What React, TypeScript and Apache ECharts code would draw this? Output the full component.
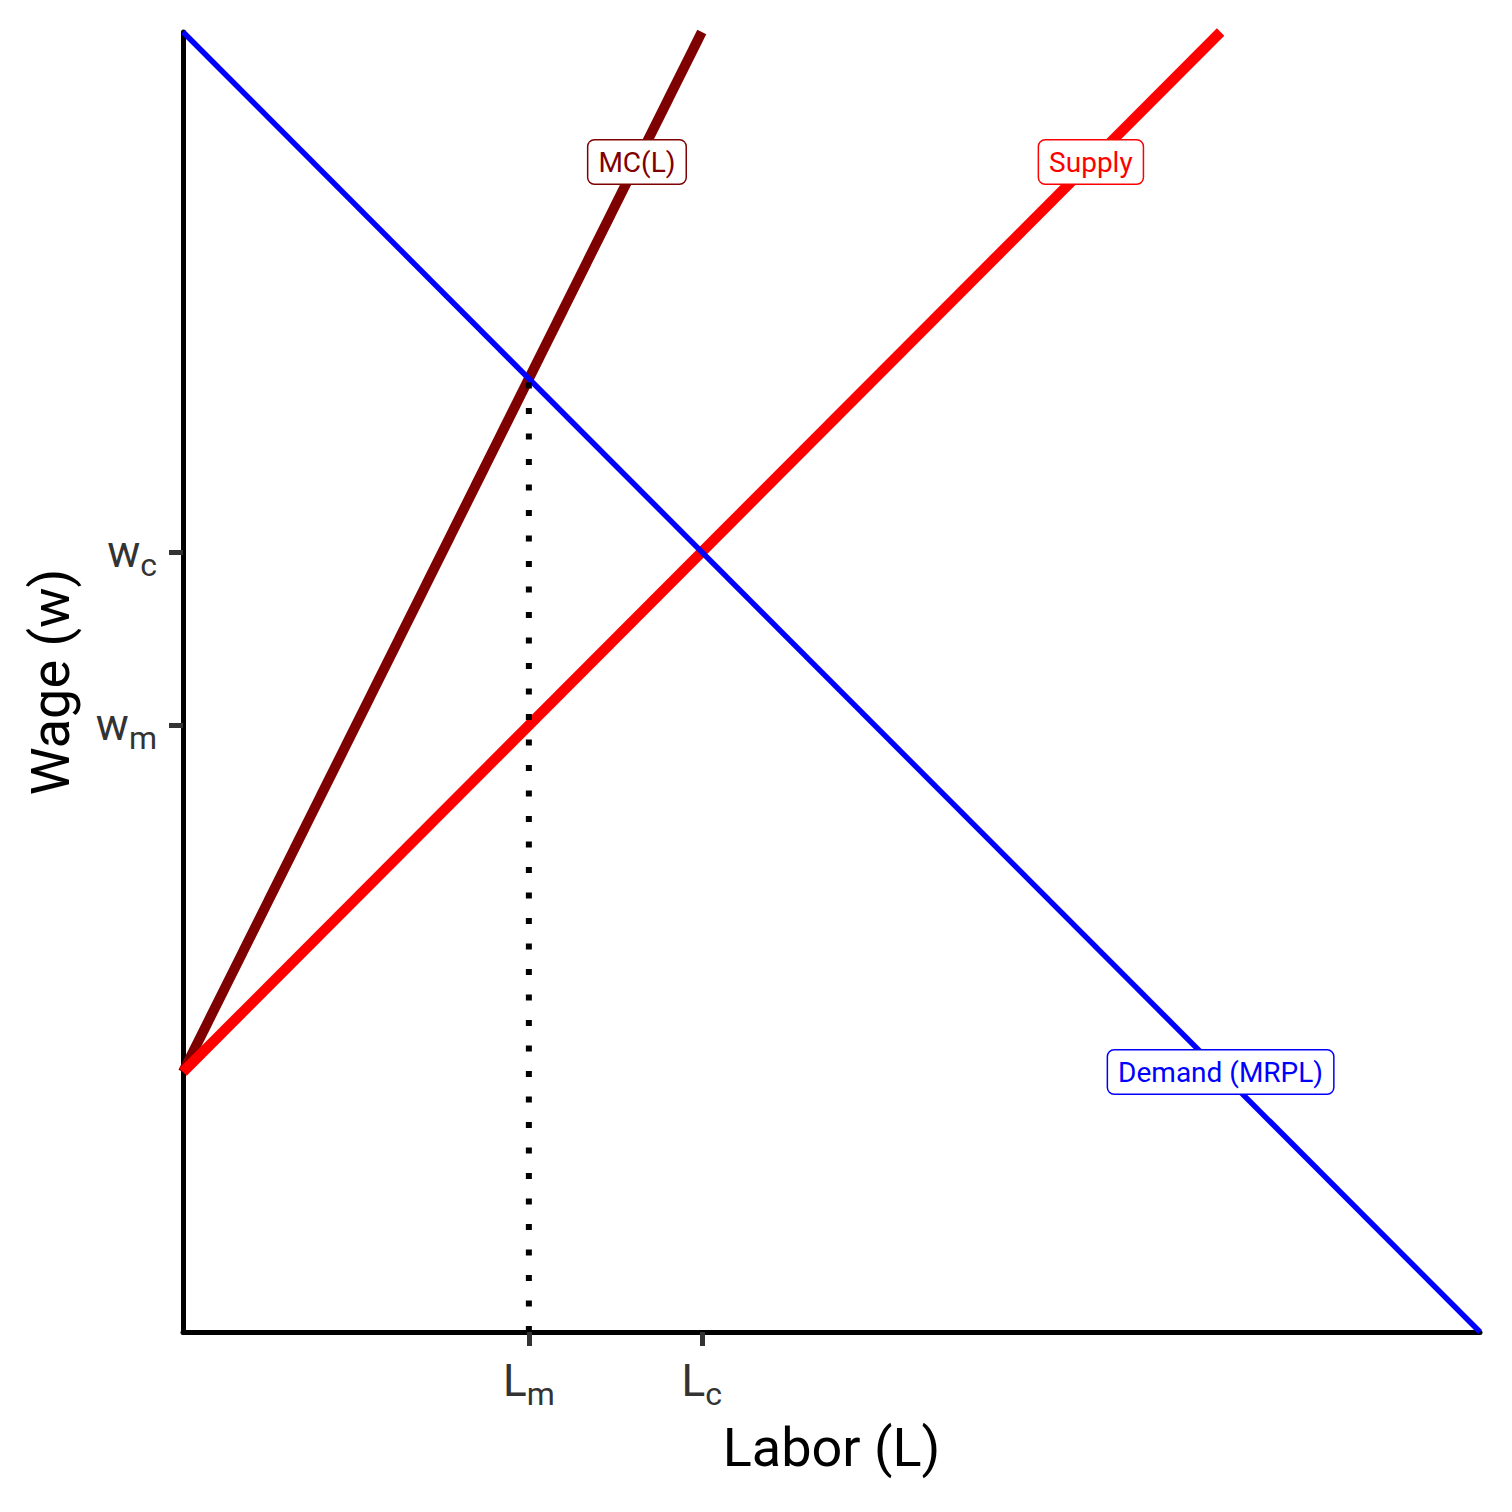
import React, { useEffect, useRef } from "react";
import * as echarts from "echarts";

const FONT = "Roboto, 'Noto Sans', sans-serif";

// Axis ranges
const X_MIN = 0;
const X_MAX = 10;
const Y_MIN = 0;
const Y_MAX = 10;

// Curves (L, w)
const demandPoints: number[][] = [
  [0, 10],
  [10, 0],
];
const supplyPoints: number[][] = [
  [0, 2],
  [8, 10],
];
const mcPoints: number[][] = [
  [0, 2],
  [4, 10],
];

// Equilibria
const Lm = 8 / 3; // MC(L) = MRPL
const mcAtLm = 10 - 8 / 3;
const wm = 2 + 8 / 3; // supply at Lm
const Lc = 4; // supply = demand
const wc = 6;

const dottedPoints: number[][] = [
  [Lm, 0],
  [Lm, mcAtLm],
];

// Tick labels
const xTickValues = [Lm, Lc];
const xTickMain = ["L", "L"];
const xTickSub = ["m", "c"];
const yTickValues = [wm, wc];
const yTickMain = ["w", "w"];
const yTickSub = ["m", "c"];

// Curve labels
const curveLabelTexts = ["MC(L)", "Supply", "Demand (MRPL)"];
const curveLabelX = [3.5, 7, 8];
const curveLabelY = [9, 9, 2];
const curveLabelColors = ["#7F0000", "#FF0000", "#0000FF"];

function tickFormatter(values: number[], main: string[], sub: string[]) {
  return (v: number) => {
    for (let i = 0; i < values.length; i++) {
      if (Math.abs(values[i] - v) < 1e-6) return `{a|${main[i]}}{b|${sub[i]}}`;
    }
    return "";
  };
}

const richTick = {
  a: { fontFamily: FONT, fontSize: 44, color: "#333333" },
  b: { fontFamily: FONT, fontSize: 32, color: "#333333", padding: [26, 0, 0, 0] },
};

export default function App() {
  const ref = useRef<HTMLDivElement>(null);
  useEffect(() => {
    if (!ref.current) return;
    const chart = echarts.init(ref.current, null, { renderer: "svg" });
    const option: any = {
      animation: false,
      backgroundColor: "#ffffff",
      textStyle: { fontFamily: FONT },
      grid: { left: 183, right: 32, top: 32, bottom: 180 },
      xAxis: {
        type: "value",
        min: X_MIN,
        max: X_MAX,
        name: "Labor (L)",
        nameLocation: "middle",
        nameGap: 88,
        nameTextStyle: { fontFamily: FONT, fontSize: 54, color: "#000" },
        axisLine: { show: true, lineStyle: { color: "#000", width: 5 } },
        axisTick: {
          show: true,
          customValues: xTickValues,
          length: 14,
          lineStyle: { color: "#333", width: 5 },
        },
        axisLabel: {
          show: true,
          customValues: xTickValues,
          margin: 20,
          formatter: tickFormatter(xTickValues, xTickMain, xTickSub),
          rich: richTick,
        },
        splitLine: { show: false },
      },
      yAxis: {
        type: "value",
        min: Y_MIN,
        max: Y_MAX,
        name: "Wage (w)",
        nameLocation: "middle",
        nameGap: 106,
        nameRotate: 90,
        nameTextStyle: { fontFamily: FONT, fontSize: 54, color: "#000" },
        axisLine: { show: true, lineStyle: { color: "#000", width: 5 } },
        axisTick: {
          show: true,
          customValues: yTickValues,
          length: 14,
          lineStyle: { color: "#333", width: 5 },
        },
        axisLabel: {
          show: true,
          customValues: yTickValues,
          margin: 26,
          formatter: tickFormatter(yTickValues, yTickMain, yTickSub),
          rich: richTick,
        },
        splitLine: { show: false },
      },
      series: [
        {
          type: "line",
          data: mcPoints,
          symbol: "none",
          lineStyle: { color: "#7F0000", width: 10 },
          z: 2,
        },
        {
          type: "line",
          data: supplyPoints,
          symbol: "none",
          lineStyle: { color: "#FF0000", width: 10.5 },
          z: 3,
        },
        {
          type: "line",
          data: demandPoints,
          symbol: "none",
          lineStyle: { color: "#0000FF", width: 5.5 },
          z: 4,
        },
        {
          type: "line",
          data: dottedPoints,
          symbol: "none",
          lineStyle: { color: "#000", width: 6, type: [6, 19.5], cap: "butt" },
          z: 5,
        },
        ...curveLabelTexts.map((t, i) => ({
          type: "scatter",
          data: [[curveLabelX[i], curveLabelY[i]]],
          symbolSize: 1,
          itemStyle: { color: "rgba(0,0,0,0)", opacity: 1 },
          z: 10,
          label: {
            show: true,
            position: "inside",
            formatter: t,
            fontFamily: FONT,
            fontSize: 28,
            color: curveLabelColors[i],
            backgroundColor: "#ffffff",
            borderColor: curveLabelColors[i],
            borderWidth: 1.5,
            borderRadius: 6,
            padding: [9, 10, 6, 10],
          },
        })),
      ],
    };
    chart.setOption(option);
    return () => chart.dispose();
  }, []);
  return <div ref={ref} style={{ width: 1512, height: 1512, margin: -8 }} />;
}
